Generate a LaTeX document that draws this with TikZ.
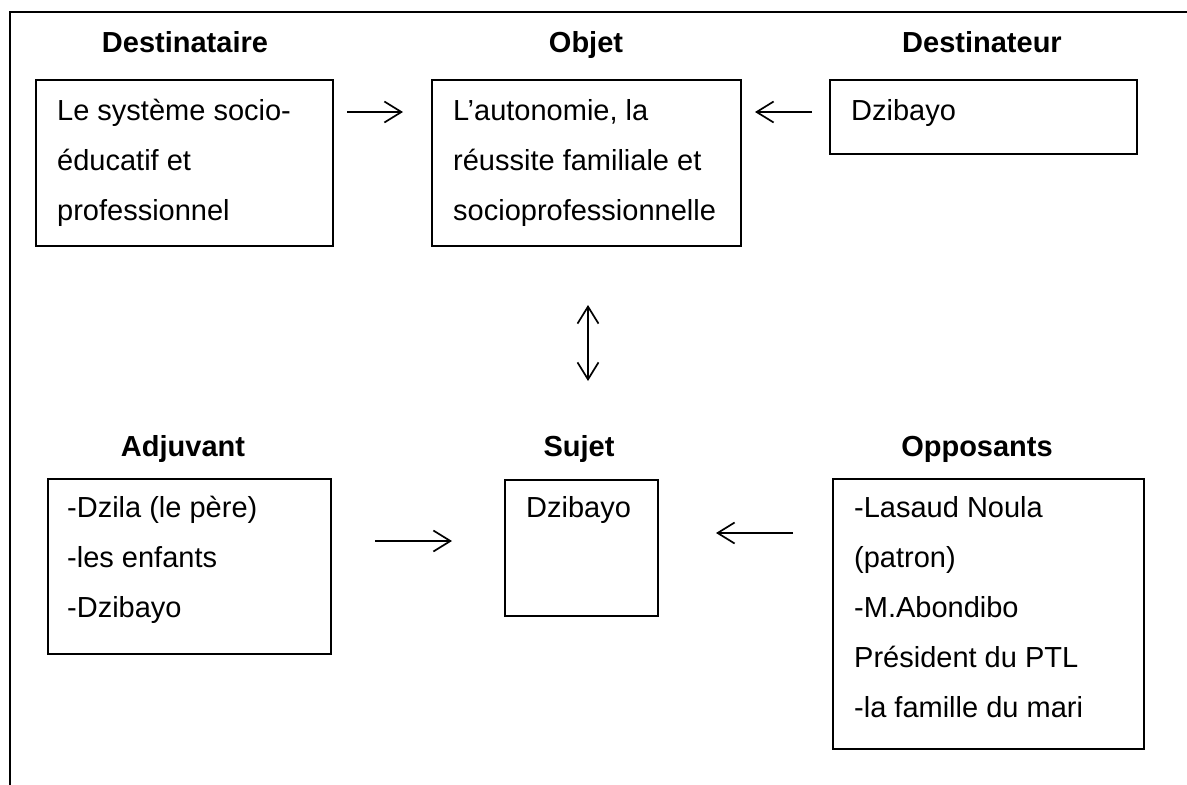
\documentclass[tikz,border=0pt]{standalone}
\usepackage{fontspec}
\setmainfont{Liberation Sans}
\usetikzlibrary{arrows.meta}

\begin{document}
\begin{tikzpicture}[x=1pt,y=-1pt]
\tikzstyle{box}=[draw, line width=2pt, rectangle, inner sep=0pt, outer sep=0pt, anchor=north west]
\tikzstyle{txt}=[anchor=north west, align=left, inner sep=0pt, font=\fontsize{29}{50}\selectfont]
\tikzstyle{ttl}=[anchor=base, inner sep=0pt, font=\fontsize{29}{50}\selectfont\bfseries]
\tikzstyle{arr}=[line width=1.7pt, -{Straight Barb[length=17pt,width=21pt]}]
\tikzstyle{dblarr}=[line width=1.7pt, {Straight Barb[length=17pt,width=21pt]}-{Straight Barb[length=17pt,width=21pt]}]
\useasboundingbox (0,0) rectangle (1187,785);
\draw [line width=2pt] (1187,12) -- (10,12) -- (10,785);
\node [box, minimum width=297pt, minimum height=166pt] (dest) at (36,80) {};
\node [box, minimum width=309pt, minimum height=166pt] (obj) at (432,80) {};
\node [box, minimum width=307pt, minimum height=74pt] (destr) at (830,80) {};
\node [box, minimum width=283pt, minimum height=175pt] (adj) at (48,479) {};
\node [box, minimum width=153pt, minimum height=136pt] (suj) at (505,480) {};
\node [box, minimum width=311pt, minimum height=270pt] (opp) at (833,479) {};
\node [ttl] (desttitle) at (185,52) {Destinataire};
\node [ttl] (objtitle) at (586,52) {Objet};
\node [ttl] (destrtitle) at (982,52) {Destinateur};
\node [ttl] (adjtitle) at (183,456) {Adjuvant};
\node [ttl] (sujtitle) at (579,456) {Sujet};
\node [ttl] (opptitle) at (977,456) {Opposants};
\node [txt] (desttxt) at ([xshift=21pt,yshift=-5pt]dest.north west) {\strut Le système socio-\\éducatif et\\professionnel};
\node [txt] (objtxt) at ([xshift=21pt,yshift=-5pt]obj.north west) {\strut L’autonomie, la\\réussite familiale et\\socioprofessionnelle};
\node [txt] (destrtxt) at ([xshift=21pt,yshift=-5pt]destr.north west) {\strut Dzibayo};
\node [txt] (adjtxt) at ([xshift=19pt,yshift=-3pt]adj.north west) {\strut -Dzila (le père)\\-les enfants\\-Dzibayo};
\node [txt] (sujtxt) at ([xshift=21pt,yshift=-2pt]suj.north west) {\strut Dzibayo};
\node [txt] (opptxt) at ([xshift=21pt,yshift=-3pt]opp.north west) {\strut -Lasaud Noula\\(patron)\\-M.Abondibo\\Président du PTL\\-la famille du mari};
\draw [arr, shorten <=14pt, shorten >=29pt] ([yshift=-32pt]dest.north east) -- ([yshift=-32pt]dest.north east -| obj.west);
\draw [arr, shorten <=18pt, shorten >=14pt] ([yshift=-32pt]destr.north west) -- ([yshift=-32pt]destr.north west -| obj.east);
\draw [dblarr, shorten <=59pt, shorten >=99pt] ([xshift=1.5pt]obj.south) -- ([xshift=1.5pt]obj.south |- suj.north);
\draw [arr, shorten <=44pt, shorten >=53pt] ([yshift=-62pt]adj.north east) -- ([yshift=-62pt]adj.north east -| suj.west);
\draw [arr, shorten <=40pt, shorten >=58pt] ([yshift=-54pt]opp.north west) -- ([yshift=-54pt]opp.north west -| suj.east);
\end{tikzpicture}
\end{document}
